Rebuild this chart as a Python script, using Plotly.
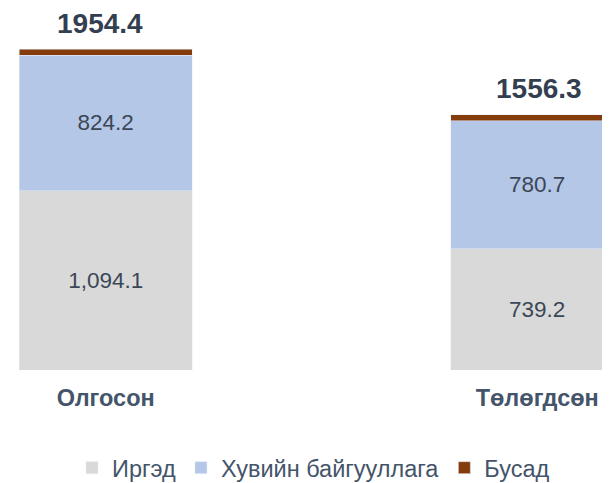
import plotly.graph_objects as go

categories = ["Олгосон", "Төлөгдсөн"]
irged = [1094.1, 739.2]
huviin = [824.2, 780.7]
busad = [36.1, 36.4]
totals = [1954.4, 1556.3]

series_names = ["Иргэд", "Хувийн байгууллага", "Бусад"]
colors = ["#D9D9D9", "#B4C7E7", "#843C0C"]

FONT = "Liberation Sans, Arial, sans-serif"

fig = go.Figure()
fig.add_bar(x=categories, y=irged, name=series_names[0], marker_color=colors[0],
            texttemplate="%{y:,.1f}", textposition="inside", insidetextanchor="middle",
            textfont=dict(size=22.5, color="#3B4656", family=FONT), width=0.401)
fig.add_bar(x=categories, y=huviin, name=series_names[1], marker_color=colors[1],
            texttemplate="%{y:,.1f}", textposition="inside", insidetextanchor="middle",
            textfont=dict(size=22.5, color="#3B4656", family=FONT), width=0.401)
fig.add_bar(x=categories, y=busad, name=series_names[2], marker_color=colors[2],
            textposition="none", width=0.401)

for c, t, xs in zip(categories, totals, [-6, 2]):
    fig.add_annotation(x=c, y=t, text="<b>%s</b>" % t, showarrow=False,
                       yanchor="middle", yshift=26, xshift=xs,
                       font=dict(size=28, color="#333F50", family=FONT))

fig.update_layout(
    barmode="stack",
    width=602, height=475,
    margin=dict(l=0, r=0, t=2, b=113, autoexpand=False),
    plot_bgcolor="white", paper_bgcolor="white",
    font=dict(family=FONT),
    showlegend=True,
    legend=dict(orientation="h", x=0.1063, xanchor="left", y=-0.272, yanchor="middle",
                font=dict(size=23.5, color="#44546A", family=FONT),
                traceorder="normal", bgcolor="rgba(0,0,0,0)"),
    bargap=0.6,
)
fig.update_xaxes(range=[-0.2264, 1.1687], showline=False, showgrid=False, ticks="",
                 ticklabelstandoff=11,
                 tickfont=dict(size=23.5, color="#44546A", family=FONT),
                 tickprefix="<b>", ticksuffix="</b>")
fig.update_yaxes(range=[0, 2195], visible=False)

fig.write_html("out.html")
